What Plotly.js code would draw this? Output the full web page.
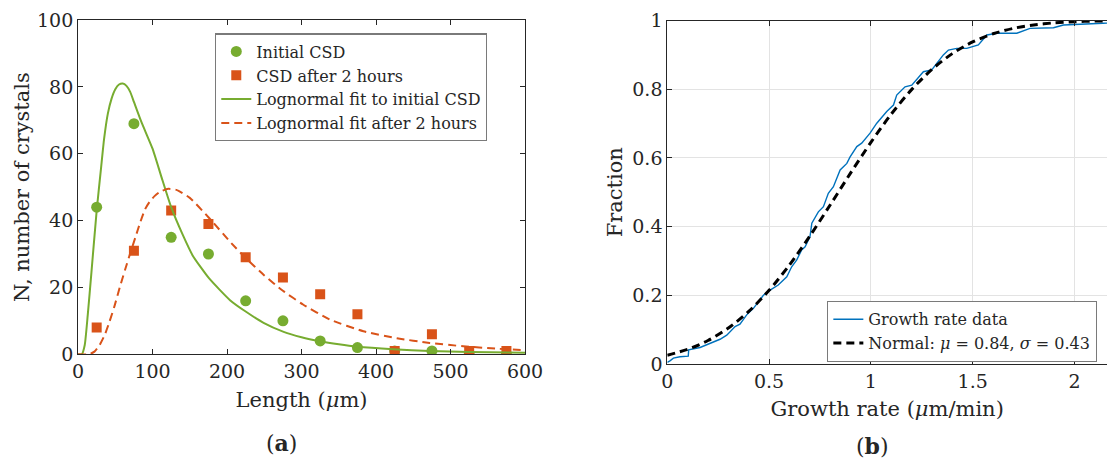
<!DOCTYPE html>
<html>
<head>
<meta charset="utf-8">
<script src="https://cdn.plot.ly/plotly-3.0.1.min.js"></script>
<style>html,body{margin:0;padding:0;background:#fff;}</style>
</head>
<body>
<div id="chart" style="width:1107px;height:459px;"></div>
<script>
// ---- Panel (a): crystal size distributions ----
const lengthBins = [25, 75, 125, 175, 225, 275, 325, 375, 425, 475, 525, 575];
const initialCSD = [44, 69, 35, 30, 16, 10, 4, 2, 1, 1, 0, 0];
const csdAfter2h = [8, 31, 43, 39, 29, 23, 18, 12, 1, 6, 1, 1];

const fitInitX = [0, 5, 9, 13, 18, 25, 31, 35, 40, 45, 50, 55, 60, 65, 70, 75, 85, 100, 112, 125, 140, 154, 176, 204, 225, 249, 276, 300, 325, 350, 374, 423, 472, 525, 600];
const fitInitY = [0, 0, 2.8, 11.7, 24.6, 43, 56, 64.5, 72, 76.5, 79.3, 80.7, 81, 80.3, 78.5, 75.5, 69.5, 61.5, 53, 44, 36, 29.5, 22.7, 16.2, 12.8, 9.4, 6.7, 5.1, 3.9, 3.0, 2.3, 1.5, 1.0, 0.7, 0.45];

const fitAfterX = [0, 15, 22, 29, 36, 42, 49, 56, 63, 70, 77, 84, 90, 96, 103, 110, 121, 132, 150, 175, 206, 224, 250, 275, 302, 338, 383, 428, 472, 517, 560, 600];
const fitAfterY = [0, 0, 0.8, 2.8, 5.9, 9.6, 14.5, 20, 25.2, 30.2, 35, 39.8, 43.4, 45.6, 47.4, 48.6, 49.5, 49.2, 46.8, 41, 33.2, 29, 23.6, 19, 14.9, 10.4, 6.9, 4.8, 3.4, 2.4, 1.7, 1.25];

// ---- Panel (b): growth rate cumulative distribution ----
const growthRate = [0, 0.013, 0.03, 0.062, 0.103, 0.105, 0.161, 0.21, 0.259, 0.292, 0.333, 0.357, 0.39, 0.423, 0.455, 0.472, 0.505, 0.545, 0.587, 0.611, 0.636, 0.66, 0.677, 0.701, 0.71, 0.742, 0.767, 0.791, 0.816, 0.849, 0.882, 0.898, 0.931, 0.955, 0.996, 1.029, 1.078, 1.111, 1.127, 1.168, 1.201, 1.242, 1.258, 1.299, 1.332, 1.356, 1.381, 1.422, 1.471, 1.504, 1.528, 1.57, 1.619, 1.717, 1.75, 1.782, 1.897, 1.946, 2.14, 2.2];
const growthFrac = [0.005, 0.009, 0.017, 0.021, 0.023, 0.041, 0.048, 0.060, 0.072, 0.084, 0.109, 0.116, 0.143, 0.162, 0.186, 0.20, 0.215, 0.230, 0.254, 0.283, 0.303, 0.332, 0.341, 0.371, 0.41, 0.443, 0.458, 0.497, 0.516, 0.565, 0.584, 0.603, 0.633, 0.643, 0.672, 0.701, 0.735, 0.754, 0.783, 0.807, 0.812, 0.841, 0.851, 0.856, 0.880, 0.900, 0.914, 0.919, 0.919, 0.924, 0.929, 0.958, 0.963, 0.963, 0.969, 0.977, 0.979, 0.987, 0.992, 0.993];

const normalX = [0, 0.1, 0.2, 0.3, 0.4, 0.5, 0.6, 0.7, 0.8, 0.9, 1.0, 1.1, 1.2, 1.3, 1.4, 1.5, 1.6, 1.7, 1.8, 1.9, 2.0, 2.1, 2.2];
const normalY = [0.0254, 0.0426, 0.0683, 0.1046, 0.1531, 0.2145, 0.2884, 0.3723, 0.4629, 0.5556, 0.6451, 0.7274, 0.7988, 0.8577, 0.9036, 0.9376, 0.9614, 0.9772, 0.9872, 0.9932, 0.9965, 0.9983, 0.9992];

const GREEN = '#77AC30', ORANGE = '#D95319', BLUE = '#0072BD', INK = '#262626';
const FONT = 'DejaVu Serif, serif';

const traces = [
  {x: lengthBins, y: initialCSD, type: 'scatter', mode: 'markers', name: 'Initial CSD',
   marker: {symbol: 'circle', size: 11, color: GREEN}, xaxis: 'x', yaxis: 'y', legend: 'legend'},
  {x: lengthBins, y: csdAfter2h, type: 'scatter', mode: 'markers', name: 'CSD after 2 hours',
   marker: {symbol: 'square', size: 10, color: ORANGE}, xaxis: 'x', yaxis: 'y', legend: 'legend'},
  {x: fitInitX, y: fitInitY, type: 'scatter', mode: 'lines', name: 'Lognormal fit to initial CSD',
   line: {color: GREEN, width: 2, shape: 'spline', smoothing: 0.5}, xaxis: 'x', yaxis: 'y', legend: 'legend'},
  {x: fitAfterX, y: fitAfterY, type: 'scatter', mode: 'lines', name: 'Lognormal fit after 2 hours',
   line: {color: ORANGE, width: 2, dash: '8px,5px', shape: 'spline', smoothing: 0.5}, xaxis: 'x', yaxis: 'y', legend: 'legend'},
  {x: growthRate, y: growthFrac, type: 'scatter', mode: 'lines', name: 'Growth rate data',
   line: {color: BLUE, width: 1.4}, xaxis: 'x2', yaxis: 'y2', legend: 'legend2'},
  {x: normalX, y: normalY, type: 'scatter', mode: 'lines', name: 'Normal: <i>μ</i> = 0.84, <i>σ</i> = 0.43',
   line: {color: '#000000', width: 3, dash: '8px,5px', shape: 'spline', smoothing: 0.8}, xaxis: 'x2', yaxis: 'y2', legend: 'legend2'}
];

const axBase = {
  showline: true, linecolor: INK, linewidth: 1, ticks: 'inside', ticklen: 5, tickwidth: 1, tickcolor: INK,
  zeroline: false, tickfont: {family: FONT, size: 19, color: INK}, automargin: false
};
const titleFont = {family: FONT, size: 21, color: INK};

const layout = {
  width: 1107, height: 459,
  margin: {l: 0, r: 0, t: 0, b: 0},
  paper_bgcolor: '#ffffff', plot_bgcolor: '#ffffff',
  font: {family: FONT, size: 18, color: INK},
  showlegend: true,
  xaxis: Object.assign({}, axBase, {
    domain: [0.0705, 0.4743], range: [0, 600], tickvals: [0, 100, 200, 300, 400, 500, 600],
    mirror: 'allticks', showgrid: false, anchor: 'y',
    title: {text: 'Length (<i>μ</i>m)', font: titleFont, standoff: 11}
  }),
  yaxis: Object.assign({}, axBase, {
    domain: [0.2281, 0.9564], range: [0, 100], tickvals: [0, 20, 40, 60, 80, 100],
    mirror: 'allticks', showgrid: false, anchor: 'x',
    title: {text: 'N, number of crystals', font: titleFont, standoff: 1}
  }),
  xaxis2: Object.assign({}, axBase, {
    domain: [0.6028, 1.0], range: [0, 2.16], tickvals: [0, 0.5, 1, 1.5, 2], ticktext: ['0', '0.5', '1', '1.5', '2'],
    mirror: 'allticks', showgrid: true, gridcolor: '#e3e3e3', gridwidth: 1, anchor: 'y2',
    title: {text: 'Growth rate (<i>μ</i>m/min)', font: titleFont, standoff: 10}
  }),
  yaxis2: Object.assign({}, axBase, {
    domain: [0.2070, 0.9553], range: [0, 1], tickvals: [0, 0.2, 0.4, 0.6, 0.8, 1], ticktext: ['0', '0.2', '0.4', '0.6', '0.8', '1'],
    mirror: false, showgrid: true, gridcolor: '#e3e3e3', gridwidth: 1, anchor: 'x2',
    title: {text: 'Fraction', font: titleFont, standoff: 3}
  }),
  legend: {
    x: 0.1942, y: 0.9275, xanchor: 'left', yanchor: 'top', bgcolor: '#ffffff',
    bordercolor: '#7a7a7a', borderwidth: 1.3, font: {family: FONT, size: 16, color: INK},
    tracegroupgap: 0, itemwidth: 30
  },
  legend2: {
    x: 0.7471, y: 0.3442, xanchor: 'left', yanchor: 'top', bgcolor: '#ffffff',
    bordercolor: '#7a7a7a', borderwidth: 1.3, font: {family: FONT, size: 16, color: INK},
    tracegroupgap: 0, itemwidth: 30
  },
  annotations: [
    {text: '(<b>a</b>)', xref: 'paper', yref: 'paper', x: 0.2547, y: 0.035, xanchor: 'center', yanchor: 'middle',
     showarrow: false, font: {family: FONT, size: 22, color: INK}},
    {text: '(<b>b</b>)', xref: 'paper', yref: 'paper', x: 0.7886, y: 0.028, xanchor: 'center', yanchor: 'middle',
     showarrow: false, font: {family: FONT, size: 22, color: INK}}
  ]
};

Plotly.newPlot('chart', traces, layout, {staticPlot: true, displayModeBar: false});
</script>
</body>
</html>
